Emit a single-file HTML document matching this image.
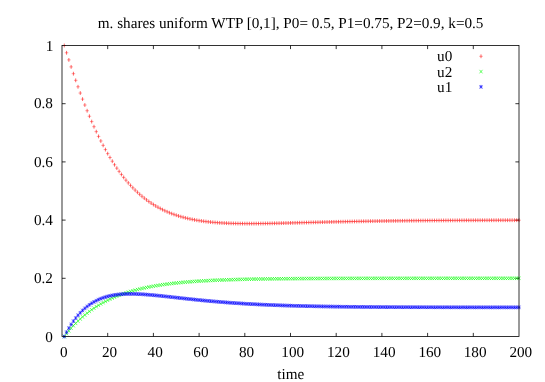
<!DOCTYPE html>
<html><head><meta charset="utf-8"><title>plot</title>
<style>
html,body{margin:0;padding:0;background:#fff;}
svg{display:block;will-change:transform}
text{font-family:"Liberation Serif",serif;font-size:15.2px;fill:#000;text-rendering:geometricPrecision;}
.tx{filter:grayscale(1)}
</style></head><body>
<svg width="545" height="382" viewBox="0 0 545 382">
<rect width="545" height="382" fill="#fff"/>
<path d="M107.70 336.5V332.9M107.70 45.5V49.1M153.40 336.5V332.9M153.40 45.5V49.1M199.10 336.5V332.9M199.10 45.5V49.1M244.80 336.5V332.9M244.80 45.5V49.1M290.50 336.5V332.9M290.50 45.5V49.1M336.20 336.5V332.9M336.20 45.5V49.1M381.90 336.5V332.9M381.90 45.5V49.1M427.60 336.5V332.9M427.60 45.5V49.1M473.30 336.5V332.9M473.30 45.5V49.1M62.0 278.30H65.6M519.0 278.30H515.4M62.0 220.10H65.6M519.0 220.10H515.4M62.0 161.90H65.6M519.0 161.90H515.4M62.0 103.70H65.6M519.0 103.70H515.4" stroke="#000" stroke-width="0.8" fill="none"/>
<path d="M62.53 45.50H66.03M64.82 52.78H68.32M67.11 59.90H70.61M69.39 66.88H72.89M71.67 73.69H75.17M73.96 80.32H77.46M76.25 86.78H79.75M78.53 93.05H82.03M80.81 99.13H84.31M83.10 105.03H86.60M85.39 110.73H88.89M87.67 116.25H91.17M89.95 121.57H93.45M92.24 126.70H95.74M94.53 131.65H98.03M96.81 136.41H100.31M99.09 140.98H102.59M101.38 145.38H104.88M103.66 149.59H107.16M105.95 153.64H109.45M108.23 157.51H111.73M110.52 161.21H114.02M112.81 164.76H116.31M115.09 168.15H118.59M117.38 171.38H120.88M119.66 174.46H123.16M121.94 177.40H125.44M124.23 180.20H127.73M126.51 182.87H130.01M128.80 185.41H132.30M131.08 187.81H134.58M133.37 190.10H136.87M135.66 192.27H139.16M137.94 194.33H141.44M140.22 196.28H143.72M142.51 198.13H146.01M144.80 199.88H148.30M147.08 201.53H150.58M149.37 203.09H152.87M151.65 204.56H155.15M153.94 205.95H157.44M156.22 207.26H159.72M158.50 208.49H162.00M160.79 209.65H164.29M163.07 210.73H166.57M165.36 211.76H168.86M167.64 212.71H171.14M169.93 213.61H173.43M172.22 214.45H175.72M174.50 215.24H178.00M176.78 215.97H180.28M179.07 216.65H182.57M181.36 217.29H184.86M183.64 217.88H187.14M185.93 218.43H189.43M188.21 218.94H191.71M190.50 219.42H194.00M192.78 219.85H196.28M195.06 220.26H198.56M197.35 220.63H200.85M199.63 220.97H203.13M201.92 221.28H205.42M204.21 221.57H207.71M206.49 221.83H209.99M208.78 222.07H212.28M211.06 222.28H214.56M213.34 222.47H216.84M215.63 222.65H219.13M217.91 222.81H221.41M220.20 222.94H223.70M222.49 223.07H225.99M224.77 223.17H228.27M227.06 223.27H230.56M229.34 223.35H232.84M231.62 223.41H235.12M233.91 223.47H237.41M236.19 223.52H239.69M238.48 223.55H241.98M240.76 223.58H244.26M243.05 223.60H246.55M245.34 223.61H248.84M247.62 223.61H251.12M249.91 223.61H253.41M252.19 223.60H255.69M254.48 223.58H257.98M256.76 223.56H260.26M259.04 223.53H262.54M261.33 223.51H264.83M263.62 223.47H267.12M265.90 223.44H269.40M268.19 223.40H271.69M270.47 223.35H273.97M272.75 223.31H276.25M275.04 223.26H278.54M277.32 223.21H280.82M279.61 223.16H283.11M281.89 223.11H285.39M284.18 223.05H287.68M286.47 223.00H289.97M288.75 222.94H292.25M291.03 222.88H294.53M293.32 222.83H296.82M295.61 222.77H299.11M297.89 222.71H301.39M300.18 222.65H303.68M302.46 222.60H305.96M304.75 222.54H308.25M307.03 222.48H310.53M309.31 222.42H312.81M311.60 222.37H315.10M313.88 222.31H317.38M316.17 222.25H319.67M318.45 222.20H321.95M320.74 222.14H324.24M323.02 222.09H326.52M325.31 222.04H328.81M327.60 221.98H331.10M329.88 221.93H333.38M332.17 221.88H335.67M334.45 221.83H337.95M336.74 221.78H340.24M339.02 221.73H342.52M341.31 221.69H344.81M343.59 221.64H347.09M345.88 221.60H349.38M348.16 221.55H351.66M350.44 221.51H353.94M352.73 221.46H356.23M355.01 221.42H358.51M357.30 221.38H360.80M359.58 221.34H363.08M361.87 221.30H365.37M364.15 221.27H367.65M366.44 221.23H369.94M368.73 221.19H372.23M371.01 221.16H374.51M373.30 221.12H376.80M375.58 221.09H379.08M377.87 221.06H381.37M380.15 221.03H383.65M382.44 221.00H385.94M384.72 220.97H388.22M387.00 220.94H390.50M389.29 220.91H392.79M391.57 220.88H395.07M393.86 220.86H397.36M396.14 220.83H399.64M398.43 220.81H401.93M400.71 220.78H404.21M403.00 220.76H406.50M405.29 220.74H408.79M407.57 220.71H411.07M409.86 220.69H413.36M412.14 220.67H415.64M414.43 220.65H417.93M416.71 220.63H420.21M419.00 220.61H422.50M421.28 220.60H424.78M423.56 220.58H427.06M425.85 220.56H429.35M428.13 220.54H431.63M430.42 220.53H433.92M432.70 220.51H436.20M434.99 220.50H438.49M437.27 220.48H440.77M439.56 220.47H443.06M441.85 220.46H445.35M444.13 220.44H447.63M446.42 220.43H449.92M448.70 220.42H452.20M450.99 220.41H454.49M453.27 220.40H456.77M455.56 220.38H459.06M457.84 220.37H461.34M460.12 220.36H463.62M462.41 220.35H465.91M464.69 220.34H468.19M466.98 220.34H470.48M469.26 220.33H472.76M471.55 220.32H475.05M473.83 220.31H477.33M476.12 220.30H479.62M478.40 220.29H481.90M480.69 220.29H484.19M482.98 220.28H486.48M485.26 220.27H488.76M487.55 220.27H491.05M489.83 220.26H493.33M492.12 220.25H495.62M494.40 220.25H497.90M496.69 220.24H500.19M498.97 220.24H502.47M501.25 220.23H504.75M503.54 220.23H507.04M505.82 220.22H509.32M508.11 220.22H511.61M510.39 220.21H513.89M512.68 220.21H516.18M514.96 220.20H518.46M517.25 220.20H520.75" stroke="#ff0000" stroke-width="0.4" fill="none"/><path d="M64.28 43.60V47.40M66.57 50.88V54.68M68.86 58.00V61.80M71.14 64.98V68.78M73.42 71.79V75.59M75.71 78.42V82.22M78.00 84.88V88.68M80.28 91.15V94.95M82.56 97.23V101.03M84.85 103.13V106.93M87.14 108.83V112.63M89.42 114.35V118.15M91.70 119.67V123.47M93.99 124.80V128.60M96.28 129.75V133.55M98.56 134.51V138.31M100.84 139.08V142.88M103.13 143.48V147.28M105.41 147.69V151.49M107.70 151.74V155.54M109.98 155.61V159.41M112.27 159.31V163.11M114.56 162.86V166.66M116.84 166.25V170.05M119.12 169.48V173.28M121.41 172.56V176.36M123.69 175.50V179.30M125.98 178.30V182.10M128.26 180.97V184.77M130.55 183.51V187.31M132.83 185.91V189.71M135.12 188.20V192.00M137.41 190.37V194.17M139.69 192.43V196.23M141.97 194.38V198.18M144.26 196.23V200.03M146.55 197.98V201.78M148.83 199.63V203.43M151.12 201.19V204.99M153.40 202.66V206.46M155.69 204.05V207.85M157.97 205.36V209.16M160.25 206.59V210.39M162.54 207.75V211.55M164.82 208.83V212.63M167.11 209.86V213.66M169.39 210.81V214.61M171.68 211.71V215.51M173.97 212.55V216.35M176.25 213.34V217.14M178.53 214.07V217.87M180.82 214.75V218.55M183.11 215.39V219.19M185.39 215.98V219.78M187.68 216.53V220.33M189.96 217.04V220.84M192.25 217.52V221.32M194.53 217.95V221.75M196.81 218.36V222.16M199.10 218.73V222.53M201.38 219.07V222.87M203.67 219.38V223.18M205.96 219.67V223.47M208.24 219.93V223.73M210.53 220.17V223.97M212.81 220.38V224.18M215.09 220.57V224.37M217.38 220.75V224.55M219.66 220.91V224.71M221.95 221.04V224.84M224.24 221.17V224.97M226.52 221.27V225.07M228.81 221.37V225.17M231.09 221.45V225.25M233.38 221.51V225.31M235.66 221.57V225.37M237.94 221.62V225.42M240.23 221.65V225.45M242.51 221.68V225.48M244.80 221.70V225.50M247.09 221.71V225.51M249.37 221.71V225.51M251.66 221.71V225.51M253.94 221.70V225.50M256.23 221.68V225.48M258.51 221.66V225.46M260.79 221.63V225.43M263.08 221.61V225.41M265.37 221.57V225.37M267.65 221.54V225.34M269.94 221.50V225.30M272.22 221.45V225.25M274.50 221.41V225.21M276.79 221.36V225.16M279.07 221.31V225.11M281.36 221.26V225.06M283.64 221.21V225.01M285.93 221.15V224.95M288.22 221.10V224.90M290.50 221.04V224.84M292.78 220.98V224.78M295.07 220.93V224.73M297.36 220.87V224.67M299.64 220.81V224.61M301.93 220.75V224.55M304.21 220.70V224.50M306.50 220.64V224.44M308.78 220.58V224.38M311.06 220.52V224.32M313.35 220.47V224.27M315.63 220.41V224.21M317.92 220.35V224.15M320.20 220.30V224.10M322.49 220.24V224.04M324.77 220.19V223.99M327.06 220.14V223.94M329.35 220.08V223.88M331.63 220.03V223.83M333.92 219.98V223.78M336.20 219.93V223.73M338.49 219.88V223.68M340.77 219.83V223.63M343.06 219.79V223.59M345.34 219.74V223.54M347.62 219.70V223.50M349.91 219.65V223.45M352.19 219.61V223.41M354.48 219.56V223.36M356.76 219.52V223.32M359.05 219.48V223.28M361.33 219.44V223.24M363.62 219.40V223.20M365.90 219.37V223.17M368.19 219.33V223.13M370.48 219.29V223.09M372.76 219.26V223.06M375.05 219.22V223.02M377.33 219.19V222.99M379.62 219.16V222.96M381.90 219.13V222.93M384.19 219.10V222.90M386.47 219.07V222.87M388.75 219.04V222.84M391.04 219.01V222.81M393.32 218.98V222.78M395.61 218.96V222.76M397.89 218.93V222.73M400.18 218.91V222.71M402.46 218.88V222.68M404.75 218.86V222.66M407.04 218.84V222.64M409.32 218.81V222.61M411.61 218.79V222.59M413.89 218.77V222.57M416.18 218.75V222.55M418.46 218.73V222.53M420.75 218.71V222.51M423.03 218.70V222.50M425.31 218.68V222.48M427.60 218.66V222.46M429.88 218.64V222.44M432.17 218.63V222.43M434.45 218.61V222.41M436.74 218.60V222.40M439.02 218.58V222.38M441.31 218.57V222.37M443.60 218.56V222.36M445.88 218.54V222.34M448.17 218.53V222.33M450.45 218.52V222.32M452.74 218.51V222.31M455.02 218.50V222.30M457.31 218.48V222.28M459.59 218.47V222.27M461.88 218.46V222.26M464.16 218.45V222.25M466.44 218.44V222.24M468.73 218.44V222.24M471.01 218.43V222.23M473.30 218.42V222.22M475.58 218.41V222.21M477.87 218.40V222.20M480.15 218.39V222.19M482.44 218.39V222.19M484.73 218.38V222.18M487.01 218.37V222.17M489.30 218.37V222.17M491.58 218.36V222.16M493.87 218.35V222.15M496.15 218.35V222.15M498.44 218.34V222.14M500.72 218.34V222.14M503.00 218.33V222.13M505.29 218.33V222.13M507.57 218.32V222.12M509.86 218.32V222.12M512.14 218.31V222.11M514.43 218.31V222.11M516.71 218.30V222.10M519.00 218.30V222.10" stroke="#ff0000" stroke-width="0.6" fill="none"/>
<path d="M62.78 334.75L65.78 338.25M62.78 338.25L65.78 334.75M65.07 331.84L68.07 335.34M65.07 335.34L68.07 331.84M67.36 329.08L70.36 332.58M67.36 332.58L70.36 329.08M69.64 326.45L72.64 329.95M69.64 329.95L72.64 326.45M71.92 323.95L74.92 327.45M71.92 327.45L74.92 323.95M74.21 321.58L77.21 325.08M74.21 325.08L77.21 321.58M76.50 319.33L79.50 322.83M76.50 322.83L79.50 319.33M78.78 317.19L81.78 320.69M78.78 320.69L81.78 317.19M81.06 315.16L84.06 318.66M81.06 318.66L84.06 315.16M83.35 313.23L86.35 316.73M83.35 316.73L86.35 313.23M85.64 311.40L88.64 314.90M85.64 314.90L88.64 311.40M87.92 309.65L90.92 313.15M87.92 313.15L90.92 309.65M90.20 308.00L93.20 311.50M90.20 311.50L93.20 308.00M92.49 306.43L95.49 309.93M92.49 309.93L95.49 306.43M94.78 304.93L97.78 308.43M94.78 308.43L97.78 304.93M97.06 303.51L100.06 307.01M97.06 307.01L100.06 303.51M99.34 302.17L102.34 305.67M99.34 305.67L102.34 302.17M101.63 300.88L104.63 304.38M101.63 304.38L104.63 300.88M103.91 299.67L106.91 303.17M103.91 303.17L106.91 299.67M106.20 298.51L109.20 302.01M106.20 302.01L109.20 298.51M108.48 297.41L111.48 300.91M108.48 300.91L111.48 297.41M110.77 296.37L113.77 299.87M110.77 299.87L113.77 296.37M113.06 295.38L116.06 298.88M113.06 298.88L116.06 295.38M115.34 294.44L118.34 297.94M115.34 297.94L118.34 294.44M117.62 293.54L120.62 297.04M117.62 297.04L120.62 293.54M119.91 292.69L122.91 296.19M119.91 296.19L122.91 292.69M122.19 291.89L125.19 295.39M122.19 295.39L125.19 291.89M124.48 291.12L127.48 294.62M124.48 294.62L127.48 291.12M126.76 290.39L129.76 293.89M126.76 293.89L129.76 290.39M129.05 289.70L132.05 293.20M129.05 293.20L132.05 289.70M131.33 289.04L134.33 292.54M131.33 292.54L134.33 289.04M133.62 288.42L136.62 291.92M133.62 291.92L136.62 288.42M135.91 287.82L138.91 291.32M135.91 291.32L138.91 287.82M138.19 287.26L141.19 290.76M138.19 290.76L141.19 287.26M140.47 286.72L143.47 290.22M140.47 290.22L143.47 286.72M142.76 286.22L145.76 289.72M142.76 289.72L145.76 286.22M145.05 285.73L148.05 289.23M145.05 289.23L148.05 285.73M147.33 285.27L150.33 288.77M147.33 288.77L150.33 285.27M149.62 284.84L152.62 288.34M149.62 288.34L152.62 284.84M151.90 284.42L154.90 287.92M151.90 287.92L154.90 284.42M154.19 284.03L157.19 287.53M154.19 287.53L157.19 284.03M156.47 283.66L159.47 287.16M156.47 287.16L159.47 283.66M158.75 283.30L161.75 286.80M158.75 286.80L161.75 283.30M161.04 282.96L164.04 286.46M161.04 286.46L164.04 282.96M163.32 282.64L166.32 286.14M163.32 286.14L166.32 282.64M165.61 282.34L168.61 285.84M165.61 285.84L168.61 282.34M167.89 282.05L170.89 285.55M167.89 285.55L170.89 282.05M170.18 281.77L173.18 285.27M170.18 285.27L173.18 281.77M172.47 281.51L175.47 285.01M172.47 285.01L175.47 281.51M174.75 281.26L177.75 284.76M174.75 284.76L177.75 281.26M177.03 281.03L180.03 284.53M177.03 284.53L180.03 281.03M179.32 280.80L182.32 284.30M179.32 284.30L182.32 280.80M181.61 280.59L184.61 284.09M181.61 284.09L184.61 280.59M183.89 280.39L186.89 283.89M183.89 283.89L186.89 280.39M186.18 280.20L189.18 283.70M186.18 283.70L189.18 280.20M188.46 280.02L191.46 283.52M188.46 283.52L191.46 280.02M190.75 279.84L193.75 283.34M190.75 283.34L193.75 279.84M193.03 279.68L196.03 283.18M193.03 283.18L196.03 279.68M195.31 279.52L198.31 283.02M195.31 283.02L198.31 279.52M197.60 279.37L200.60 282.87M197.60 282.87L200.60 279.37M199.88 279.23L202.88 282.73M199.88 282.73L202.88 279.23M202.17 279.10L205.17 282.60M202.17 282.60L205.17 279.10M204.46 278.97L207.46 282.47M204.46 282.47L207.46 278.97M206.74 278.85L209.74 282.35M206.74 282.35L209.74 278.85M209.03 278.73L212.03 282.23M209.03 282.23L212.03 278.73M211.31 278.62L214.31 282.12M211.31 282.12L214.31 278.62M213.59 278.52L216.59 282.02M213.59 282.02L216.59 278.52M215.88 278.42L218.88 281.92M215.88 281.92L218.88 278.42M218.16 278.33L221.16 281.83M218.16 281.83L221.16 278.33M220.45 278.24L223.45 281.74M220.45 281.74L223.45 278.24M222.74 278.16L225.74 281.66M222.74 281.66L225.74 278.16M225.02 278.08L228.02 281.58M225.02 281.58L228.02 278.08M227.31 278.00L230.31 281.50M227.31 281.50L230.31 278.00M229.59 277.93L232.59 281.43M229.59 281.43L232.59 277.93M231.88 277.86L234.88 281.36M231.88 281.36L234.88 277.86M234.16 277.79L237.16 281.29M234.16 281.29L237.16 277.79M236.44 277.73L239.44 281.23M236.44 281.23L239.44 277.73M238.73 277.67L241.73 281.17M238.73 281.17L241.73 277.67M241.01 277.62L244.01 281.12M241.01 281.12L244.01 277.62M243.30 277.56L246.30 281.06M243.30 281.06L246.30 277.56M245.59 277.51L248.59 281.01M245.59 281.01L248.59 277.51M247.87 277.46L250.87 280.96M247.87 280.96L250.87 277.46M250.16 277.42L253.16 280.92M250.16 280.92L253.16 277.42M252.44 277.37L255.44 280.87M252.44 280.87L255.44 277.37M254.73 277.33L257.73 280.83M254.73 280.83L257.73 277.33M257.01 277.29L260.01 280.79M257.01 280.79L260.01 277.29M259.29 277.26L262.29 280.76M259.29 280.76L262.29 277.26M261.58 277.22L264.58 280.72M261.58 280.72L264.58 277.22M263.87 277.19L266.87 280.69M263.87 280.69L266.87 277.19M266.15 277.16L269.15 280.66M266.15 280.66L269.15 277.16M268.44 277.13L271.44 280.63M268.44 280.63L271.44 277.13M270.72 277.10L273.72 280.60M270.72 280.60L273.72 277.10M273.00 277.07L276.00 280.57M273.00 280.57L276.00 277.07M275.29 277.04L278.29 280.54M275.29 280.54L278.29 277.04M277.57 277.02L280.57 280.52M277.57 280.52L280.57 277.02M279.86 277.00L282.86 280.50M279.86 280.50L282.86 277.00M282.14 276.97L285.14 280.47M282.14 280.47L285.14 276.97M284.43 276.95L287.43 280.45M284.43 280.45L287.43 276.95M286.72 276.93L289.72 280.43M286.72 280.43L289.72 276.93M289.00 276.91L292.00 280.41M289.00 280.41L292.00 276.91M291.28 276.89L294.28 280.39M291.28 280.39L294.28 276.89M293.57 276.88L296.57 280.38M293.57 280.38L296.57 276.88M295.86 276.86L298.86 280.36M295.86 280.36L298.86 276.86M298.14 276.85L301.14 280.35M298.14 280.35L301.14 276.85M300.43 276.83L303.43 280.33M300.43 280.33L303.43 276.83M302.71 276.82L305.71 280.32M302.71 280.32L305.71 276.82M305.00 276.80L308.00 280.30M305.00 280.30L308.00 276.80M307.28 276.79L310.28 280.29M307.28 280.29L310.28 276.79M309.56 276.78L312.56 280.28M309.56 280.28L312.56 276.78M311.85 276.77L314.85 280.27M311.85 280.27L314.85 276.77M314.13 276.76L317.13 280.26M314.13 280.26L317.13 276.76M316.42 276.75L319.42 280.25M316.42 280.25L319.42 276.75M318.70 276.74L321.70 280.24M318.70 280.24L321.70 276.74M320.99 276.73L323.99 280.23M320.99 280.23L323.99 276.73M323.27 276.72L326.27 280.22M323.27 280.22L326.27 276.72M325.56 276.71L328.56 280.21M325.56 280.21L328.56 276.71M327.85 276.70L330.85 280.20M327.85 280.20L330.85 276.70M330.13 276.69L333.13 280.19M330.13 280.19L333.13 276.69M332.42 276.69L335.42 280.19M332.42 280.19L335.42 276.69M334.70 276.68L337.70 280.18M334.70 280.18L337.70 276.68M336.99 276.67L339.99 280.17M336.99 280.17L339.99 276.67M339.27 276.67L342.27 280.17M339.27 280.17L342.27 276.67M341.56 276.66L344.56 280.16M341.56 280.16L344.56 276.66M343.84 276.66L346.84 280.16M343.84 280.16L346.84 276.66M346.12 276.65L349.12 280.15M346.12 280.15L349.12 276.65M348.41 276.65L351.41 280.15M348.41 280.15L351.41 276.65M350.69 276.64L353.69 280.14M350.69 280.14L353.69 276.64M352.98 276.64L355.98 280.14M352.98 280.14L355.98 276.64M355.26 276.63L358.26 280.13M355.26 280.13L358.26 276.63M357.55 276.63L360.55 280.13M357.55 280.13L360.55 276.63M359.83 276.62L362.83 280.12M359.83 280.12L362.83 276.62M362.12 276.62L365.12 280.12M362.12 280.12L365.12 276.62M364.40 276.62L367.40 280.12M364.40 280.12L367.40 276.62M366.69 276.61L369.69 280.11M366.69 280.11L369.69 276.61M368.98 276.61L371.98 280.11M368.98 280.11L371.98 276.61M371.26 276.61L374.26 280.11M371.26 280.11L374.26 276.61M373.55 276.60L376.55 280.10M373.55 280.10L376.55 276.60M375.83 276.60L378.83 280.10M375.83 280.10L378.83 276.60M378.12 276.60L381.12 280.10M378.12 280.10L381.12 276.60M380.40 276.60L383.40 280.10M380.40 280.10L383.40 276.60M382.69 276.59L385.69 280.09M382.69 280.09L385.69 276.59M384.97 276.59L387.97 280.09M384.97 280.09L387.97 276.59M387.25 276.59L390.25 280.09M387.25 280.09L390.25 276.59M389.54 276.59L392.54 280.09M389.54 280.09L392.54 276.59M391.82 276.59L394.82 280.09M391.82 280.09L394.82 276.59M394.11 276.58L397.11 280.08M394.11 280.08L397.11 276.58M396.39 276.58L399.39 280.08M396.39 280.08L399.39 276.58M398.68 276.58L401.68 280.08M398.68 280.08L401.68 276.58M400.96 276.58L403.96 280.08M400.96 280.08L403.96 276.58M403.25 276.58L406.25 280.08M403.25 280.08L406.25 276.58M405.54 276.58L408.54 280.08M405.54 280.08L408.54 276.58M407.82 276.58L410.82 280.08M407.82 280.08L410.82 276.58M410.11 276.57L413.11 280.07M410.11 280.07L413.11 276.57M412.39 276.57L415.39 280.07M412.39 280.07L415.39 276.57M414.68 276.57L417.68 280.07M414.68 280.07L417.68 276.57M416.96 276.57L419.96 280.07M416.96 280.07L419.96 276.57M419.25 276.57L422.25 280.07M419.25 280.07L422.25 276.57M421.53 276.57L424.53 280.07M421.53 280.07L424.53 276.57M423.81 276.57L426.81 280.07M423.81 280.07L426.81 276.57M426.10 276.57L429.10 280.07M426.10 280.07L429.10 276.57M428.38 276.57L431.38 280.07M428.38 280.07L431.38 276.57M430.67 276.57L433.67 280.07M430.67 280.07L433.67 276.57M432.95 276.56L435.95 280.06M432.95 280.06L435.95 276.56M435.24 276.56L438.24 280.06M435.24 280.06L438.24 276.56M437.52 276.56L440.52 280.06M437.52 280.06L440.52 276.56M439.81 276.56L442.81 280.06M439.81 280.06L442.81 276.56M442.10 276.56L445.10 280.06M442.10 280.06L445.10 276.56M444.38 276.56L447.38 280.06M444.38 280.06L447.38 276.56M446.67 276.56L449.67 280.06M446.67 280.06L449.67 276.56M448.95 276.56L451.95 280.06M448.95 280.06L451.95 276.56M451.24 276.56L454.24 280.06M451.24 280.06L454.24 276.56M453.52 276.56L456.52 280.06M453.52 280.06L456.52 276.56M455.81 276.56L458.81 280.06M455.81 280.06L458.81 276.56M458.09 276.56L461.09 280.06M458.09 280.06L461.09 276.56M460.38 276.56L463.38 280.06M460.38 280.06L463.38 276.56M462.66 276.56L465.66 280.06M462.66 280.06L465.66 276.56M464.94 276.56L467.94 280.06M464.94 280.06L467.94 276.56M467.23 276.56L470.23 280.06M467.23 280.06L470.23 276.56M469.51 276.56L472.51 280.06M469.51 280.06L472.51 276.56M471.80 276.56L474.80 280.06M471.80 280.06L474.80 276.56M474.08 276.56L477.08 280.06M474.08 280.06L477.08 276.56M476.37 276.56L479.37 280.06M476.37 280.06L479.37 276.56M478.65 276.56L481.65 280.06M478.65 280.06L481.65 276.56M480.94 276.55L483.94 280.05M480.94 280.05L483.94 276.55M483.23 276.55L486.23 280.05M483.23 280.05L486.23 276.55M485.51 276.55L488.51 280.05M485.51 280.05L488.51 276.55M487.80 276.55L490.80 280.05M487.80 280.05L490.80 276.55M490.08 276.55L493.08 280.05M490.08 280.05L493.08 276.55M492.37 276.55L495.37 280.05M492.37 280.05L495.37 276.55M494.65 276.55L497.65 280.05M494.65 280.05L497.65 276.55M496.94 276.55L499.94 280.05M496.94 280.05L499.94 276.55M499.22 276.55L502.22 280.05M499.22 280.05L502.22 276.55M501.50 276.55L504.50 280.05M501.50 280.05L504.50 276.55M503.79 276.55L506.79 280.05M503.79 280.05L506.79 276.55M506.07 276.55L509.07 280.05M506.07 280.05L509.07 276.55M508.36 276.55L511.36 280.05M508.36 280.05L511.36 276.55M510.64 276.55L513.64 280.05M510.64 280.05L513.64 276.55M512.93 276.55L515.93 280.05M512.93 280.05L515.93 276.55M515.21 276.55L518.21 280.05M515.21 280.05L518.21 276.55M517.50 276.55L520.50 280.05M517.50 280.05L520.50 276.55" stroke="#00ff00" stroke-width="0.6" fill="none"/>
<path d="M62.53 336.50H66.03M64.82 332.13H68.32M67.11 328.13H70.61M69.39 324.47H72.89M71.67 321.12H75.17M73.96 318.07H77.46M76.25 315.28H79.75M78.53 312.75H82.03M80.81 310.45H84.31M83.10 308.37H86.60M85.39 306.48H88.89M87.67 304.79H91.17M89.95 303.26H93.45M92.24 301.90H95.74M94.53 300.68H98.03M96.81 299.59H100.31M99.09 298.64H102.59M101.38 297.79H104.88M103.66 297.06H107.16M105.95 296.42H109.45M108.23 295.87H111.73M110.52 295.40H114.02M112.81 295.01H116.31M115.09 294.69H118.59M117.38 294.43H120.88M119.66 294.23H123.16M121.94 294.08H125.44M124.23 293.98H127.73M126.51 293.92H130.01M128.80 293.90H132.30M131.08 293.92H134.58M133.37 293.97H136.87M135.66 294.05H139.16M137.94 294.15H141.44M140.22 294.28H143.72M142.51 294.43H146.01M144.80 294.59H148.30M147.08 294.77H150.58M149.37 294.97H152.87M151.65 295.18H155.15M153.94 295.39H157.44M156.22 295.62H159.72M158.50 295.85H162.00M160.79 296.09H164.29M163.07 296.34H166.57M165.36 296.59H168.86M167.64 296.84H171.14M169.93 297.09H173.43M172.22 297.35H175.72M174.50 297.60H178.00M176.78 297.85H180.28M179.07 298.11H182.57M181.36 298.36H184.86M183.64 298.61H187.14M185.93 298.86H189.43M188.21 299.10H191.71M190.50 299.34H194.00M192.78 299.58H196.28M195.06 299.82H198.56M197.35 300.05H200.85M199.63 300.27H203.13M201.92 300.50H205.42M204.21 300.71H207.71M206.49 300.93H209.99M208.78 301.14H212.28M211.06 301.34H214.56M213.34 301.54H216.84M215.63 301.73H219.13M217.91 301.92H221.41M220.20 302.11H223.70M222.49 302.29H225.99M224.77 302.46H228.27M227.06 302.63H230.56M229.34 302.80H232.84M231.62 302.96H235.12M233.91 303.12H237.41M236.19 303.27H239.69M238.48 303.42H241.98M240.76 303.56H244.26M243.05 303.70H246.55M245.34 303.83H248.84M247.62 303.96H251.12M249.91 304.09H253.41M252.19 304.21H255.69M254.48 304.33H257.98M256.76 304.44H260.26M259.04 304.56H262.54M261.33 304.66H264.83M263.62 304.77H267.12M265.90 304.87H269.40M268.19 304.96H271.69M270.47 305.05H273.97M272.75 305.14H276.25M275.04 305.23H278.54M277.32 305.32H280.82M279.61 305.40H283.11M281.89 305.47H285.39M284.18 305.55H287.68M286.47 305.62H289.97M288.75 305.69H292.25M291.03 305.76H294.53M293.32 305.82H296.82M295.61 305.89H299.11M297.89 305.95H301.39M300.18 306.00H303.68M302.46 306.06H305.96M304.75 306.11H308.25M307.03 306.17H310.53M309.31 306.21H312.81M311.60 306.26H315.10M313.88 306.31H317.38M316.17 306.35H319.67M318.45 306.40H321.95M320.74 306.44H324.24M323.02 306.48H326.52M325.31 306.51H328.81M327.60 306.55H331.10M329.88 306.58H333.38M332.17 306.62H335.67M334.45 306.65H337.95M336.74 306.68H340.24M339.02 306.71H342.52M341.31 306.74H344.81M343.59 306.77H347.09M345.88 306.79H349.38M348.16 306.82H351.66M350.44 306.84H353.94M352.73 306.87H356.23M355.01 306.89H358.51M357.30 306.91H360.80M359.58 306.93H363.08M361.87 306.95H365.37M364.15 306.97H367.65M366.44 306.99H369.94M368.73 307.01H372.23M371.01 307.02H374.51M373.30 307.04H376.80M375.58 307.05H379.08M377.87 307.07H381.37M380.15 307.08H383.65M382.44 307.10H385.94M384.72 307.11H388.22M387.00 307.12H390.50M389.29 307.13H392.79M391.57 307.14H395.07M393.86 307.16H397.36M396.14 307.17H399.64M398.43 307.18H401.93M400.71 307.19H404.21M403.00 307.20H406.50M405.29 307.20H408.79M407.57 307.21H411.07M409.86 307.22H413.36M412.14 307.23H415.64M414.43 307.24H417.93M416.71 307.24H420.21M419.00 307.25H422.50M421.28 307.26H424.78M423.56 307.26H427.06M425.85 307.27H429.35M428.13 307.27H431.63M430.42 307.28H433.92M432.70 307.29H436.20M434.99 307.29H438.49M437.27 307.29H440.77M439.56 307.30H443.06M441.85 307.30H445.35M444.13 307.31H447.63M446.42 307.31H449.92M448.70 307.32H452.20M450.99 307.32H454.49M453.27 307.32H456.77M455.56 307.33H459.06M457.84 307.33H461.34M460.12 307.33H463.62M462.41 307.34H465.91M464.69 307.34H468.19M466.98 307.34H470.48M469.26 307.34H472.76M471.55 307.35H475.05M473.83 307.35H477.33M476.12 307.35H479.62M478.40 307.35H481.90M480.69 307.36H484.19M482.98 307.36H486.48M485.26 307.36H488.76M487.55 307.36H491.05M489.83 307.36H493.33M492.12 307.36H495.62M494.40 307.37H497.90M496.69 307.37H500.19M498.97 307.37H502.47M501.25 307.37H504.75M503.54 307.37H507.04M505.82 307.37H509.32M508.11 307.37H511.61M510.39 307.38H513.89M512.68 307.38H516.18M514.96 307.38H518.46M517.25 307.38H520.75" stroke="#0000ff" stroke-width="0.4" fill="none"/><path d="M64.28 334.60V338.40M66.57 330.24V334.03M68.86 326.23V330.03M71.14 322.57V326.37M73.42 319.22V323.02M75.71 316.17V319.97M78.00 313.38V317.18M80.28 310.85V314.65M82.56 308.55V312.35M84.85 306.47V310.27M87.14 304.58V308.38M89.42 302.89V306.69M91.70 301.36V305.16M93.99 300.00V303.80M96.28 298.78V302.58M98.56 297.69V301.49M100.84 296.74V300.54M103.13 295.89V299.69M105.41 295.16V298.96M107.70 294.52V298.32M109.98 293.97V297.77M112.27 293.50V297.30M114.56 293.11V296.91M116.84 292.79V296.59M119.12 292.53V296.33M121.41 292.33V296.13M123.69 292.18V295.98M125.98 292.08V295.88M128.26 292.02V295.82M130.55 292.00V295.80M132.83 292.02V295.82M135.12 292.07V295.87M137.41 292.15V295.95M139.69 292.25V296.05M141.97 292.38V296.18M144.26 292.53V296.33M146.55 292.69V296.49M148.83 292.87V296.67M151.12 293.07V296.87M153.40 293.28V297.08M155.69 293.49V297.29M157.97 293.72V297.52M160.25 293.95V297.75M162.54 294.19V297.99M164.82 294.44V298.24M167.11 294.69V298.49M169.39 294.94V298.74M171.68 295.19V298.99M173.97 295.45V299.25M176.25 295.70V299.50M178.53 295.95V299.75M180.82 296.21V300.01M183.11 296.46V300.26M185.39 296.71V300.51M187.68 296.96V300.76M189.96 297.20V301.00M192.25 297.44V301.24M194.53 297.68V301.48M196.81 297.92V301.72M199.10 298.15V301.95M201.38 298.37V302.17M203.67 298.60V302.40M205.96 298.81V302.61M208.24 299.03V302.83M210.53 299.24V303.04M212.81 299.44V303.24M215.09 299.64V303.44M217.38 299.83V303.63M219.66 300.02V303.82M221.95 300.21V304.01M224.24 300.39V304.19M226.52 300.56V304.36M228.81 300.73V304.53M231.09 300.90V304.70M233.38 301.06V304.86M235.66 301.22V305.02M237.94 301.37V305.17M240.23 301.52V305.32M242.51 301.66V305.46M244.80 301.80V305.60M247.09 301.93V305.73M249.37 302.06V305.86M251.66 302.19V305.99M253.94 302.31V306.11M256.23 302.43V306.23M258.51 302.54V306.34M260.79 302.66V306.46M263.08 302.76V306.56M265.37 302.87V306.67M267.65 302.97V306.77M269.94 303.06V306.86M272.22 303.15V306.95M274.50 303.24V307.04M276.79 303.33V307.13M279.07 303.42V307.22M281.36 303.50V307.30M283.64 303.57V307.37M285.93 303.65V307.45M288.22 303.72V307.52M290.50 303.79V307.59M292.78 303.86V307.66M295.07 303.92V307.72M297.36 303.99V307.79M299.64 304.05V307.85M301.93 304.10V307.90M304.21 304.16V307.96M306.50 304.21V308.01M308.78 304.27V308.07M311.06 304.31V308.11M313.35 304.36V308.16M315.63 304.41V308.21M317.92 304.45V308.25M320.20 304.50V308.30M322.49 304.54V308.34M324.77 304.58V308.38M327.06 304.61V308.41M329.35 304.65V308.45M331.63 304.68V308.48M333.92 304.72V308.52M336.20 304.75V308.55M338.49 304.78V308.58M340.77 304.81V308.61M343.06 304.84V308.64M345.34 304.87V308.67M347.62 304.89V308.69M349.91 304.92V308.72M352.19 304.94V308.74M354.48 304.97V308.77M356.76 304.99V308.79M359.05 305.01V308.81M361.33 305.03V308.83M363.62 305.05V308.85M365.90 305.07V308.87M368.19 305.09V308.89M370.48 305.11V308.91M372.76 305.12V308.92M375.05 305.14V308.94M377.33 305.15V308.95M379.62 305.17V308.97M381.90 305.18V308.98M384.19 305.20V309.00M386.47 305.21V309.01M388.75 305.22V309.02M391.04 305.23V309.03M393.32 305.24V309.04M395.61 305.26V309.06M397.89 305.27V309.07M400.18 305.28V309.08M402.46 305.29V309.09M404.75 305.30V309.10M407.04 305.30V309.10M409.32 305.31V309.11M411.61 305.32V309.12M413.89 305.33V309.13M416.18 305.34V309.14M418.46 305.34V309.14M420.75 305.35V309.15M423.03 305.36V309.16M425.31 305.36V309.16M427.60 305.37V309.17M429.88 305.37V309.17M432.17 305.38V309.18M434.45 305.39V309.19M436.74 305.39V309.19M439.02 305.39V309.19M441.31 305.40V309.20M443.60 305.40V309.20M445.88 305.41V309.21M448.17 305.41V309.21M450.45 305.42V309.22M452.74 305.42V309.22M455.02 305.42V309.22M457.31 305.43V309.23M459.59 305.43V309.23M461.88 305.43V309.23M464.16 305.44V309.24M466.44 305.44V309.24M468.73 305.44V309.24M471.01 305.44V309.24M473.30 305.45V309.25M475.58 305.45V309.25M477.87 305.45V309.25M480.15 305.45V309.25M482.44 305.46V309.26M484.73 305.46V309.26M487.01 305.46V309.26M489.30 305.46V309.26M491.58 305.46V309.26M493.87 305.46V309.26M496.15 305.47V309.27M498.44 305.47V309.27M500.72 305.47V309.27M503.00 305.47V309.27M505.29 305.47V309.27M507.57 305.47V309.27M509.86 305.47V309.27M512.14 305.48V309.28M514.43 305.48V309.28M516.71 305.48V309.28M519.00 305.48V309.28" stroke="#0000ff" stroke-width="0.6" fill="none"/><path d="M62.78 334.75L65.78 338.25M62.78 338.25L65.78 334.75M65.07 330.38L68.07 333.88M65.07 333.88L68.07 330.38M67.36 326.38L70.36 329.88M67.36 329.88L70.36 326.38M69.64 322.72L72.64 326.22M69.64 326.22L72.64 322.72M71.92 319.37L74.92 322.87M71.92 322.87L74.92 319.37M74.21 316.32L77.21 319.82M74.21 319.82L77.21 316.32M76.50 313.53L79.50 317.03M76.50 317.03L79.50 313.53M78.78 311.00L81.78 314.50M78.78 314.50L81.78 311.00M81.06 308.70L84.06 312.20M81.06 312.20L84.06 308.70M83.35 306.62L86.35 310.12M83.35 310.12L86.35 306.62M85.64 304.73L88.64 308.23M85.64 308.23L88.64 304.73M87.92 303.04L90.92 306.54M87.92 306.54L90.92 303.04M90.20 301.51L93.20 305.01M90.20 305.01L93.20 301.51M92.49 300.15L95.49 303.65M92.49 303.65L95.49 300.15M94.78 298.93L97.78 302.43M94.78 302.43L97.78 298.93M97.06 297.84L100.06 301.34M97.06 301.34L100.06 297.84M99.34 296.89L102.34 300.39M99.34 300.39L102.34 296.89M101.63 296.04L104.63 299.54M101.63 299.54L104.63 296.04M103.91 295.31L106.91 298.81M103.91 298.81L106.91 295.31M106.20 294.67L109.20 298.17M106.20 298.17L109.20 294.67M108.48 294.12L111.48 297.62M108.48 297.62L111.48 294.12M110.77 293.65L113.77 297.15M110.77 297.15L113.77 293.65M113.06 293.26L116.06 296.76M113.06 296.76L116.06 293.26M115.34 292.94L118.34 296.44M115.34 296.44L118.34 292.94M117.62 292.68L120.62 296.18M117.62 296.18L120.62 292.68M119.91 292.48L122.91 295.98M119.91 295.98L122.91 292.48M122.19 292.33L125.19 295.83M122.19 295.83L125.19 292.33M124.48 292.23L127.48 295.73M124.48 295.73L127.48 292.23M126.76 292.17L129.76 295.67M126.76 295.67L129.76 292.17M129.05 292.15L132.05 295.65M129.05 295.65L132.05 292.15M131.33 292.17L134.33 295.67M131.33 295.67L134.33 292.17M133.62 292.22L136.62 295.72M133.62 295.72L136.62 292.22M135.91 292.30L138.91 295.80M135.91 295.80L138.91 292.30M138.19 292.40L141.19 295.90M138.19 295.90L141.19 292.40M140.47 292.53L143.47 296.03M140.47 296.03L143.47 292.53M142.76 292.68L145.76 296.18M142.76 296.18L145.76 292.68M145.05 292.84L148.05 296.34M145.05 296.34L148.05 292.84M147.33 293.02L150.33 296.52M147.33 296.52L150.33 293.02M149.62 293.22L152.62 296.72M149.62 296.72L152.62 293.22M151.90 293.43L154.90 296.93M151.90 296.93L154.90 293.43M154.19 293.64L157.19 297.14M154.19 297.14L157.19 293.64M156.47 293.87L159.47 297.37M156.47 297.37L159.47 293.87M158.75 294.10L161.75 297.60M158.75 297.60L161.75 294.10M161.04 294.34L164.04 297.84M161.04 297.84L164.04 294.34M163.32 294.59L166.32 298.09M163.32 298.09L166.32 294.59M165.61 294.84L168.61 298.34M165.61 298.34L168.61 294.84M167.89 295.09L170.89 298.59M167.89 298.59L170.89 295.09M170.18 295.34L173.18 298.84M170.18 298.84L173.18 295.34M172.47 295.60L175.47 299.10M172.47 299.10L175.47 295.60M174.75 295.85L177.75 299.35M174.75 299.35L177.75 295.85M177.03 296.10L180.03 299.60M177.03 299.60L180.03 296.10M179.32 296.36L182.32 299.86M179.32 299.86L182.32 296.36M181.61 296.61L184.61 300.11M181.61 300.11L184.61 296.61M183.89 296.86L186.89 300.36M183.89 300.36L186.89 296.86M186.18 297.11L189.18 300.61M186.18 300.61L189.18 297.11M188.46 297.35L191.46 300.85M188.46 300.85L191.46 297.35M190.75 297.59L193.75 301.09M190.75 301.09L193.75 297.59M193.03 297.83L196.03 301.33M193.03 301.33L196.03 297.83M195.31 298.07L198.31 301.57M195.31 301.57L198.31 298.07M197.60 298.30L200.60 301.80M197.60 301.80L200.60 298.30M199.88 298.52L202.88 302.02M199.88 302.02L202.88 298.52M202.17 298.75L205.17 302.25M202.17 302.25L205.17 298.75M204.46 298.96L207.46 302.46M204.46 302.46L207.46 298.96M206.74 299.18L209.74 302.68M206.74 302.68L209.74 299.18M209.03 299.39L212.03 302.89M209.03 302.89L212.03 299.39M211.31 299.59L214.31 303.09M211.31 303.09L214.31 299.59M213.59 299.79L216.59 303.29M213.59 303.29L216.59 299.79M215.88 299.98L218.88 303.48M215.88 303.48L218.88 299.98M218.16 300.17L221.16 303.67M218.16 303.67L221.16 300.17M220.45 300.36L223.45 303.86M220.45 303.86L223.45 300.36M222.74 300.54L225.74 304.04M222.74 304.04L225.74 300.54M225.02 300.71L228.02 304.21M225.02 304.21L228.02 300.71M227.31 300.88L230.31 304.38M227.31 304.38L230.31 300.88M229.59 301.05L232.59 304.55M229.59 304.55L232.59 301.05M231.88 301.21L234.88 304.71M231.88 304.71L234.88 301.21M234.16 301.37L237.16 304.87M234.16 304.87L237.16 301.37M236.44 301.52L239.44 305.02M236.44 305.02L239.44 301.52M238.73 301.67L241.73 305.17M238.73 305.17L241.73 301.67M241.01 301.81L244.01 305.31M241.01 305.31L244.01 301.81M243.30 301.95L246.30 305.45M243.30 305.45L246.30 301.95M245.59 302.08L248.59 305.58M245.59 305.58L248.59 302.08M247.87 302.21L250.87 305.71M247.87 305.71L250.87 302.21M250.16 302.34L253.16 305.84M250.16 305.84L253.16 302.34M252.44 302.46L255.44 305.96M252.44 305.96L255.44 302.46M254.73 302.58L257.73 306.08M254.73 306.08L257.73 302.58M257.01 302.69L260.01 306.19M257.01 306.19L260.01 302.69M259.29 302.81L262.29 306.31M259.29 306.31L262.29 302.81M261.58 302.91L264.58 306.41M261.58 306.41L264.58 302.91M263.87 303.02L266.87 306.52M263.87 306.52L266.87 303.02M266.15 303.12L269.15 306.62M266.15 306.62L269.15 303.12M268.44 303.21L271.44 306.71M268.44 306.71L271.44 303.21M270.72 303.30L273.72 306.80M270.72 306.80L273.72 303.30M273.00 303.39L276.00 306.89M273.00 306.89L276.00 303.39M275.29 303.48L278.29 306.98M275.29 306.98L278.29 303.48M277.57 303.57L280.57 307.07M277.57 307.07L280.57 303.57M279.86 303.65L282.86 307.15M279.86 307.15L282.86 303.65M282.14 303.72L285.14 307.22M282.14 307.22L285.14 303.72M284.43 303.80L287.43 307.30M284.43 307.30L287.43 303.80M286.72 303.87L289.72 307.37M286.72 307.37L289.72 303.87M289.00 303.94L292.00 307.44M289.00 307.44L292.00 303.94M291.28 304.01L294.28 307.51M291.28 307.51L294.28 304.01M293.57 304.07L296.57 307.57M293.57 307.57L296.57 304.07M295.86 304.14L298.86 307.64M295.86 307.64L298.86 304.14M298.14 304.20L301.14 307.70M298.14 307.70L301.14 304.20M300.43 304.25L303.43 307.75M300.43 307.75L303.43 304.25M302.71 304.31L305.71 307.81M302.71 307.81L305.71 304.31M305.00 304.36L308.00 307.86M305.00 307.86L308.00 304.36M307.28 304.42L310.28 307.92M307.28 307.92L310.28 304.42M309.56 304.46L312.56 307.96M309.56 307.96L312.56 304.46M311.85 304.51L314.85 308.01M311.85 308.01L314.85 304.51M314.13 304.56L317.13 308.06M314.13 308.06L317.13 304.56M316.42 304.60L319.42 308.10M316.42 308.10L319.42 304.60M318.70 304.65L321.70 308.15M318.70 308.15L321.70 304.65M320.99 304.69L323.99 308.19M320.99 308.19L323.99 304.69M323.27 304.73L326.27 308.23M323.27 308.23L326.27 304.73M325.56 304.76L328.56 308.26M325.56 308.26L328.56 304.76M327.85 304.80L330.85 308.30M327.85 308.30L330.85 304.80M330.13 304.83L333.13 308.33M330.13 308.33L333.13 304.83M332.42 304.87L335.42 308.37M332.42 308.37L335.42 304.87M334.70 304.90L337.70 308.40M334.70 308.40L337.70 304.90M336.99 304.93L339.99 308.43M336.99 308.43L339.99 304.93M339.27 304.96L342.27 308.46M339.27 308.46L342.27 304.96M341.56 304.99L344.56 308.49M341.56 308.49L344.56 304.99M343.84 305.02L346.84 308.52M343.84 308.52L346.84 305.02M346.12 305.04L349.12 308.54M346.12 308.54L349.12 305.04M348.41 305.07L351.41 308.57M348.41 308.57L351.41 305.07M350.69 305.09L353.69 308.59M350.69 308.59L353.69 305.09M352.98 305.12L355.98 308.62M352.98 308.62L355.98 305.12M355.26 305.14L358.26 308.64M355.26 308.64L358.26 305.14M357.55 305.16L360.55 308.66M357.55 308.66L360.55 305.16M359.83 305.18L362.83 308.68M359.83 308.68L362.83 305.18M362.12 305.20L365.12 308.70M362.12 308.70L365.12 305.20M364.40 305.22L367.40 308.72M364.40 308.72L367.40 305.22M366.69 305.24L369.69 308.74M366.69 308.74L369.69 305.24M368.98 305.26L371.98 308.76M368.98 308.76L371.98 305.26M371.26 305.27L374.26 308.77M371.26 308.77L374.26 305.27M373.55 305.29L376.55 308.79M373.55 308.79L376.55 305.29M375.83 305.30L378.83 308.80M375.83 308.80L378.83 305.30M378.12 305.32L381.12 308.82M378.12 308.82L381.12 305.32M380.40 305.33L383.40 308.83M380.40 308.83L383.40 305.33M382.69 305.35L385.69 308.85M382.69 308.85L385.69 305.35M384.97 305.36L387.97 308.86M384.97 308.86L387.97 305.36M387.25 305.37L390.25 308.87M387.25 308.87L390.25 305.37M389.54 305.38L392.54 308.88M389.54 308.88L392.54 305.38M391.82 305.39L394.82 308.89M391.82 308.89L394.82 305.39M394.11 305.41L397.11 308.91M394.11 308.91L397.11 305.41M396.39 305.42L399.39 308.92M396.39 308.92L399.39 305.42M398.68 305.43L401.68 308.93M398.68 308.93L401.68 305.43M400.96 305.44L403.96 308.94M400.96 308.94L403.96 305.44M403.25 305.45L406.25 308.95M403.25 308.95L406.25 305.45M405.54 305.45L408.54 308.95M405.54 308.95L408.54 305.45M407.82 305.46L410.82 308.96M407.82 308.96L410.82 305.46M410.11 305.47L413.11 308.97M410.11 308.97L413.11 305.47M412.39 305.48L415.39 308.98M412.39 308.98L415.39 305.48M414.68 305.49L417.68 308.99M414.68 308.99L417.68 305.49M416.96 305.49L419.96 308.99M416.96 308.99L419.96 305.49M419.25 305.50L422.25 309.00M419.25 309.00L422.25 305.50M421.53 305.51L424.53 309.01M421.53 309.01L424.53 305.51M423.81 305.51L426.81 309.01M423.81 309.01L426.81 305.51M426.10 305.52L429.10 309.02M426.10 309.02L429.10 305.52M428.38 305.52L431.38 309.02M428.38 309.02L431.38 305.52M430.67 305.53L433.67 309.03M430.67 309.03L433.67 305.53M432.95 305.54L435.95 309.04M432.95 309.04L435.95 305.54M435.24 305.54L438.24 309.04M435.24 309.04L438.24 305.54M437.52 305.54L440.52 309.04M437.52 309.04L440.52 305.54M439.81 305.55L442.81 309.05M439.81 309.05L442.81 305.55M442.10 305.55L445.10 309.05M442.10 309.05L445.10 305.55M444.38 305.56L447.38 309.06M444.38 309.06L447.38 305.56M446.67 305.56L449.67 309.06M446.67 309.06L449.67 305.56M448.95 305.57L451.95 309.07M448.95 309.07L451.95 305.57M451.24 305.57L454.24 309.07M451.24 309.07L454.24 305.57M453.52 305.57L456.52 309.07M453.52 309.07L456.52 305.57M455.81 305.58L458.81 309.08M455.81 309.08L458.81 305.58M458.09 305.58L461.09 309.08M458.09 309.08L461.09 305.58M460.38 305.58L463.38 309.08M460.38 309.08L463.38 305.58M462.66 305.59L465.66 309.09M462.66 309.09L465.66 305.59M464.94 305.59L467.94 309.09M464.94 309.09L467.94 305.59M467.23 305.59L470.23 309.09M467.23 309.09L470.23 305.59M469.51 305.59L472.51 309.09M469.51 309.09L472.51 305.59M471.80 305.60L474.80 309.10M471.80 309.10L474.80 305.60M474.08 305.60L477.08 309.10M474.08 309.10L477.08 305.60M476.37 305.60L479.37 309.10M476.37 309.10L479.37 305.60M478.65 305.60L481.65 309.10M478.65 309.10L481.65 305.60M480.94 305.61L483.94 309.11M480.94 309.11L483.94 305.61M483.23 305.61L486.23 309.11M483.23 309.11L486.23 305.61M485.51 305.61L488.51 309.11M485.51 309.11L488.51 305.61M487.80 305.61L490.80 309.11M487.80 309.11L490.80 305.61M490.08 305.61L493.08 309.11M490.08 309.11L493.08 305.61M492.37 305.61L495.37 309.11M492.37 309.11L495.37 305.61M494.65 305.62L497.65 309.12M494.65 309.12L497.65 305.62M496.94 305.62L499.94 309.12M496.94 309.12L499.94 305.62M499.22 305.62L502.22 309.12M499.22 309.12L502.22 305.62M501.50 305.62L504.50 309.12M501.50 309.12L504.50 305.62M503.79 305.62L506.79 309.12M503.79 309.12L506.79 305.62M506.07 305.62L509.07 309.12M506.07 309.12L509.07 305.62M508.36 305.62L511.36 309.12M508.36 309.12L511.36 305.62M510.64 305.63L513.64 309.13M510.64 309.13L513.64 305.63M512.93 305.63L515.93 309.13M512.93 309.13L515.93 305.63M515.21 305.63L518.21 309.13M515.21 309.13L518.21 305.63M517.50 305.63L520.50 309.13M517.50 309.13L520.50 305.63" stroke="#0000ff" stroke-width="0.6" fill="none"/>
<rect x="62.0" y="45.5" width="457.0" height="291.0" fill="none" stroke="#000" stroke-width="0.8"/>
<path d="M479.25 56.30H482.75" stroke="#ff0000" stroke-width="0.4" fill="none"/><path d="M481.00 54.40V58.20" stroke="#ff0000" stroke-width="0.6" fill="none"/>
<path d="M479.50 69.85L482.50 73.35M479.50 73.35L482.50 69.85" stroke="#00ff00" stroke-width="0.6" fill="none"/>
<path d="M479.25 86.80H482.75" stroke="#0000ff" stroke-width="0.4" fill="none"/><path d="M481.00 84.90V88.70" stroke="#0000ff" stroke-width="0.6" fill="none"/><path d="M479.50 85.05L482.50 88.55M479.50 88.55L482.50 85.05" stroke="#0000ff" stroke-width="0.6" fill="none"/>
<g class="tx">
<text transform="translate(437.10 61.20) scale(1 1.0)" text-anchor="start">u0</text>
<text transform="translate(437.10 76.60) scale(1 1.0)" text-anchor="start">u2</text>
<text transform="translate(437.10 91.80) scale(1 1.0)" text-anchor="start">u1</text>
<text transform="translate(290.60 27.90) scale(1 1.0)" text-anchor="middle">m. shares uniform WTP [0,1], P0= 0.5, P1=0.75, P2=0.9, k=0.5</text>
<text transform="translate(63.80 356.80) scale(1 1.0)" text-anchor="middle">0</text>
<text transform="translate(109.50 356.80) scale(1 1.0)" text-anchor="middle">20</text>
<text transform="translate(155.20 356.80) scale(1 1.0)" text-anchor="middle">40</text>
<text transform="translate(200.90 356.80) scale(1 1.0)" text-anchor="middle">60</text>
<text transform="translate(246.60 356.80) scale(1 1.0)" text-anchor="middle">80</text>
<text transform="translate(292.70 356.80) scale(1 1.0)" text-anchor="middle">100</text>
<text transform="translate(338.40 356.80) scale(1 1.0)" text-anchor="middle">120</text>
<text transform="translate(384.10 356.80) scale(1 1.0)" text-anchor="middle">140</text>
<text transform="translate(429.80 356.80) scale(1 1.0)" text-anchor="middle">160</text>
<text transform="translate(475.10 356.80) scale(1 1.0)" text-anchor="middle">180</text>
<text transform="translate(520.80 356.80) scale(1 1.0)" text-anchor="middle">200</text>
<text transform="translate(52.90 342.00) scale(1 1.0)" text-anchor="end">0</text>
<text transform="translate(52.90 283.00) scale(1 1.0)" text-anchor="end">0.2</text>
<text transform="translate(52.90 224.80) scale(1 1.0)" text-anchor="end">0.4</text>
<text transform="translate(52.90 166.60) scale(1 1.0)" text-anchor="end">0.6</text>
<text transform="translate(52.90 108.40) scale(1 1.0)" text-anchor="end">0.8</text>
<text transform="translate(53.30 51.00) scale(1 1.0)" text-anchor="end">1</text>
<text transform="translate(290.70 379.20) scale(1 1.0)" text-anchor="middle">time</text>
</g>
</svg></body></html>
